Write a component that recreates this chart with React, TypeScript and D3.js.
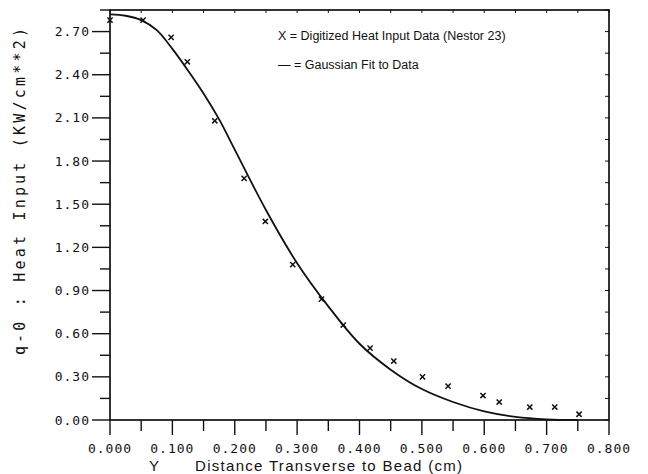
import { useEffect, useRef } from "react";
import * as d3 from "d3";

const WIDTH = 648;
const HEIGHT = 474;
const MARGIN = { top: 10, right: 39, bottom: 54, left: 110 };

const DATA_Y = [0, 0.053, 0.098, 0.124, 0.168, 0.215, 0.249, 0.293, 0.339, 0.374, 0.417, 0.455, 0.501, 0.542, 0.598, 0.624, 0.673, 0.713, 0.752];
const DATA_Q = [2.78, 2.78, 2.66, 2.49, 2.08, 1.68, 1.38, 1.08, 0.84, 0.66, 0.5, 0.41, 0.3, 0.235, 0.17, 0.125, 0.09, 0.09, 0.04];

// gaussian fit curve
const FIT_Y = [0, 0.025, 0.05, 0.075, 0.1, 0.125, 0.15, 0.175, 0.2, 0.25, 0.3, 0.35, 0.4, 0.45, 0.5, 0.55, 0.6, 0.65, 0.7, 0.75];
const FIT_Q = [2.82, 2.81, 2.78, 2.71, 2.58, 2.43, 2.27, 2.09, 1.88, 1.46, 1.09, 0.79, 0.53, 0.35, 0.215, 0.125, 0.06, 0.022, 0.005, 0.001];

const X_TICKS = [0, 0.1, 0.2, 0.3, 0.4, 0.5, 0.6, 0.7, 0.8];
const X_TICK_LABELS = ["0.000", "0.100", "0.200", "0.300", "0.400", "0.500", "0.600", "0.700", "0.800"];
const Y_TICKS = [0, 0.3, 0.6, 0.9, 1.2, 1.5, 1.8, 2.1, 2.4, 2.7];
const Y_TICK_LABELS = ["0.00", "0.30", "0.60", "0.90", "1.20", "1.50", "1.80", "2.10", "2.40", "2.70"];

const X_TITLE_VAR = "Y";
const X_TITLE = "Distance Transverse to Bead (cm)";
const Y_TITLE = "q-0 : Heat Input (KW/cm**2)";
const LEGEND = ["X = Digitized Heat Input Data (Nestor 23)", "\u2014 = Gaussian Fit to Data"];

const INK = "#111111";
const MONO = "'DejaVu Sans Mono', monospace";
const SANS = "'Liberation Sans', Arial, sans-serif";

export default function App() {
  const svgRef = useRef<SVGSVGElement>(null);

  useEffect(() => {
    const svg = d3.select(svgRef.current);
    svg.selectAll("*").remove();

    const innerW = WIDTH - MARGIN.left - MARGIN.right;
    const innerH = HEIGHT - MARGIN.top - MARGIN.bottom;

    const x = d3.scaleLinear().domain([0, 0.8]).range([0, innerW]);
    const y = d3.scaleLinear().domain([0, 2.85]).range([innerH, 0]);

    svg.append("rect").attr("width", WIDTH).attr("height", HEIGHT).attr("fill", "#ffffff");

    const g = svg.append("g").attr("transform", `translate(${MARGIN.left},${MARGIN.top})`);

    // frame
    g.append("rect")
      .attr("width", innerW)
      .attr("height", innerH)
      .attr("fill", "none")
      .attr("stroke", INK)
      .attr("stroke-width", 1.7);

    // x ticks every 0.05, below the axis
    const xMinor = x.ticks(16);
    xMinor.forEach((v) => {
      const major = X_TICKS.some((t) => Math.abs(t - v) < 1e-6);
      g.append("line")
        .attr("x1", x(v)).attr("x2", x(v))
        .attr("y1", innerH).attr("y2", innerH + (major ? 15 : 11))
        .attr("stroke", INK).attr("stroke-width", 1.4);
      // small inside ticks on top edge
      g.append("line")
        .attr("x1", x(v)).attr("x2", x(v))
        .attr("y1", 0).attr("y2", 3)
        .attr("stroke", INK).attr("stroke-width", 1);
    });

    // y ticks every 0.15, left of the axis
    const yMinor = d3.range(0, 2.86, 0.15);
    yMinor.forEach((v) => {
      const major = Y_TICKS.some((t) => Math.abs(t - v) < 1e-6);
      g.append("line")
        .attr("x1", 0).attr("x2", major ? -18 : -10)
        .attr("y1", y(v)).attr("y2", y(v))
        .attr("stroke", INK).attr("stroke-width", 1.4);
      g.append("line")
        .attr("x1", innerW).attr("x2", innerW - 4)
        .attr("y1", y(v)).attr("y2", y(v))
        .attr("stroke", INK).attr("stroke-width", 1);
    });

    // tick labels
    X_TICKS.forEach((v, i) => {
      g.append("text")
        .attr("x", x(v))
        .attr("y", innerH + 28)
        .attr("dy", "0.35em")
        .attr("text-anchor", "middle")
        .attr("font-family", MONO)
        .attr("font-size", "13px")
        .attr("letter-spacing", "1px")
        .attr("fill", INK)
        .text(X_TICK_LABELS[i]);
    });
    Y_TICKS.forEach((v, i) => {
      g.append("text")
        .attr("x", -20)
        .attr("y", y(v))
        .attr("dy", "0.35em")
        .attr("text-anchor", "end")
        .attr("font-family", MONO)
        .attr("font-size", "13px")
        .attr("letter-spacing", "1px")
        .attr("fill", INK)
        .text(Y_TICK_LABELS[i]);
    });

    // axis titles
    g.append("text")
      .attr("x", 44)
      .attr("y", innerH + 46)
      .attr("dy", "0.35em")
      .attr("text-anchor", "middle")
      .attr("font-family", SANS)
      .attr("font-size", "15px")
      .attr("fill", INK)
      .text(X_TITLE_VAR);
    g.append("text")
      .attr("x", 85)
      .attr("y", innerH + 46)
      .attr("dy", "0.35em")
      .attr("text-anchor", "start")
      .attr("font-family", SANS)
      .attr("font-size", "15px")
      .attr("letter-spacing", "1.3px")
      .attr("fill", INK)
      .text(X_TITLE);
    g.append("text")
      .attr("transform", `translate(${-MARGIN.left + 20},${180}) rotate(-90)`)
      .attr("dy", "0.35em")
      .attr("text-anchor", "middle")
      .attr("font-family", MONO)
      .attr("font-size", "15px")
      .attr("letter-spacing", "3.2px")
      .attr("fill", INK)
      .text(Y_TITLE);

    // fit curve
    const fit = FIT_Y.map((v, i) => [v, FIT_Q[i]] as [number, number]);
    g.append("path")
      .attr("d", d3.line<[number, number]>()
        .x((d) => x(d[0]))
        .y((d) => y(d[1]))
        .curve(d3.curveCatmullRom.alpha(0.5))(fit))
      .attr("fill", "none")
      .attr("stroke", INK)
      .attr("stroke-width", 1.8);

    // data markers drawn as small x's
    const s = 2.6;
    DATA_Y.forEach((v, i) => {
      const cx = x(v);
      const cy = y(DATA_Q[i]);
      g.append("path")
        .attr("d", `M${cx - s},${cy - s}L${cx + s},${cy + s}M${cx - s},${cy + s}L${cx + s},${cy - s}`)
        .attr("stroke", INK)
        .attr("stroke-width", 1.5)
        .attr("fill", "none");
    });

    // legend
    LEGEND.forEach((line, i) => {
      g.append("text")
        .attr("x", 168)
        .attr("y", 26 + i * 29)
        .attr("dy", "0.35em")
        .attr("font-family", SANS)
        .attr("font-size", "12.5px")
        .attr("fill", INK)
        .text(line);
    });
  }, []);

  return (
    <div style={{ position: "absolute", left: 0, top: 0 }}>
      <svg ref={svgRef} width={WIDTH} height={HEIGHT} style={{ display: "block" }} />
    </div>
  );
}
